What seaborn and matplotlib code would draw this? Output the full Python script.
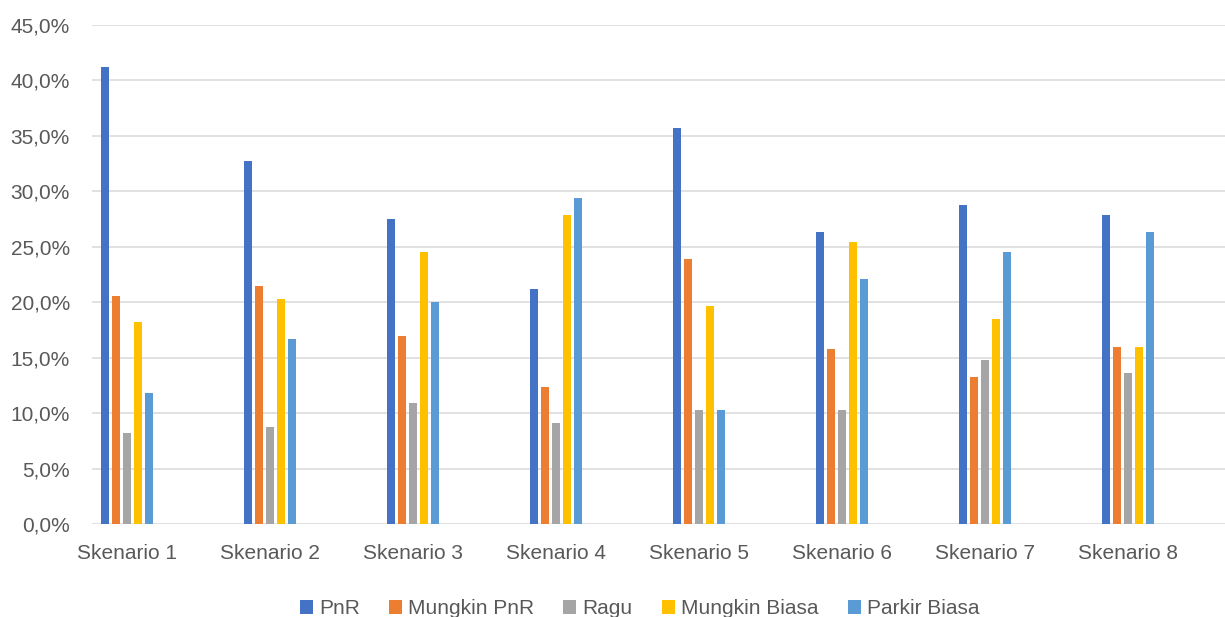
import matplotlib
matplotlib.use("Agg")
import matplotlib.pyplot as plt
import seaborn as sns
import pandas as pd
from matplotlib.ticker import FuncFormatter, MultipleLocator

# ---- data (percent) ----
skenario = ["Skenario 1", "Skenario 2", "Skenario 3", "Skenario 4",
            "Skenario 5", "Skenario 6", "Skenario 7", "Skenario 8"]
series_names = ["PnR", "Mungkin PnR", "Ragu", "Mungkin Biasa", "Parkir Biasa"]
pnr = [41.2, 32.7, 27.5, 21.2, 35.7, 26.3, 28.8, 27.9]
mungkin_pnr = [20.6, 21.5, 17.0, 12.4, 23.9, 15.8, 13.3, 16.0]
ragu = [8.2, 8.8, 10.9, 9.1, 10.3, 10.3, 14.8, 13.6]
mungkin_biasa = [18.2, 20.3, 24.5, 27.9, 19.7, 25.4, 18.5, 16.0]
parkir_biasa = [11.8, 16.7, 20.0, 29.4, 10.3, 22.1, 24.5, 26.3]
colors = ["#4472C4", "#ED7D31", "#A5A5A5", "#FFC000", "#5B9BD5"]

series_values = [pnr, mungkin_pnr, ragu, mungkin_biasa, parkir_biasa]
rows = []
for name, vals in zip(series_names, series_values):
    for sk, v in zip(skenario, vals):
        rows.append({"Skenario": sk, "Kategori": name, "Nilai": v})
df = pd.DataFrame(rows)

sns.set_theme(style="white")
plt.rcParams["font.family"] = ["Liberation Sans", "DejaVu Sans"]
text_color = "#595959"
grid_color = "#D9D9D9"

fig = plt.figure(figsize=(12.25, 6.17), dpi=100)
ax = fig.add_axes([0.0751, 0.1503, 0.9249, 0.8092])

sns.barplot(data=df, x="Skenario", y="Nilai", hue="Kategori",
            order=skenario, hue_order=series_names, palette=colors,
            width=0.385, gap=0.23, linewidth=0, saturation=1,
            errorbar=None, ax=ax)

ax.set_ylim(0, 45)
ax.set_xlim(-0.245, 7.678)
ax.yaxis.set_major_locator(MultipleLocator(5))
ax.yaxis.set_major_formatter(FuncFormatter(lambda v, p: f"{v:.1f}%".replace(".", ",")))
ax.set_axisbelow(True)
ax.grid(axis="y", color=grid_color, linewidth=1.1)
ax.grid(axis="x", visible=False)
for s in ax.spines.values():
    s.set_visible(False)
ax.set_xlabel("")
ax.set_ylabel("")
ax.tick_params(axis="both", length=0, labelsize=15, labelcolor=text_color)
ax.tick_params(axis="x", pad=14)
ax.tick_params(axis="y", pad=16)

handles, labels = ax.get_legend_handles_labels()
if ax.get_legend() is not None:
    ax.get_legend().remove()
fig.legend(handles, labels, loc="center", bbox_to_anchor=(0.522, 0.013),
           ncol=5, frameon=False, handlelength=0.62, handleheight=0.62,
           handletextpad=0.3, columnspacing=1.4, fontsize=15,
           labelcolor=text_color)

fig.savefig("out.png", dpi=100)
